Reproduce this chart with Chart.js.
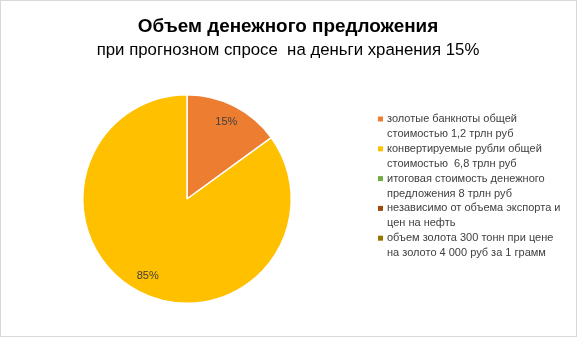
<!doctype html>
<html lang="ru">
  <head>
    <meta charset="utf-8">
    <title>Объем денежного предложения</title>
    <style>
      * { margin: 0; padding: 0; }
      body { background: #fff; }
      .chartBox { width: 577px; height: 337px; }
    </style>
  </head>
  <body>
    <div class="chartBox">
      <canvas id="myChart" width="577" height="337"></canvas>
    </div>
    <script src="https://cdn.jsdelivr.net/npm/chart.js"></script>
    <script>
    // data
    const categories = [
      ['золотые банкноты общей', 'стоимостью 1,2 трлн руб'],
      ['конвертируемые рубли общей', 'стоимостью  6,8 трлн руб'],
      ['итоговая стоимость денежного', 'предложения 8 трлн руб'],
      ['независимо от объема экспорта и', 'цен на нефть'],
      ['объем золота 300 тонн при цене', 'на золото 4 000 руб за 1 грамм']
    ];
    const values = [1.2, 6.8, 0, 0, 0];
    const colors = ['#ED7D31', '#FFC000', '#70AD47', '#9E480E', '#997300'];
    const titleText = 'Объем денежного предложения';
    const subtitleText = 'при прогнозном спросе  на деньги хранения 15%';

    const FONT = '"Liberation Sans", Arial, sans-serif';

    // frame and titles
    const framePlugin = {
      id: 'frame',
      beforeDraw(chart) {
        const ctx = chart.ctx;
        ctx.save();
        ctx.fillStyle = '#fff';
        ctx.fillRect(0, 0, chart.width, chart.height);
        ctx.strokeStyle = '#D9D9D9';
        ctx.lineWidth = 1;
        ctx.strokeRect(0.5, 0.5, chart.width - 1, chart.height - 1);
        ctx.fillStyle = '#000';
        ctx.textAlign = 'center';
        ctx.textBaseline = 'alphabetic';
        ctx.font = 'bold 18.9px ' + FONT;
        ctx.fillText(titleText, 288, 32);
        ctx.font = '16.8px ' + FONT;
        ctx.fillText(subtitleText, 288, 54.5);
        ctx.restore();
      }
    };

    // percent labels inside slices
    const pctPlugin = {
      id: 'pct',
      afterDatasetsDraw(chart) {
        const ctx = chart.ctx;
        const ds = chart.data.datasets[0].data;
        const total = ds.reduce((a, b) => a + b, 0);
        ctx.save();
        ctx.font = '11px ' + FONT;
        ctx.fillStyle = '#404040';
        ctx.textAlign = 'center';
        ctx.textBaseline = 'middle';
        chart.getDatasetMeta(0).data.forEach((arc, i) => {
          if (!ds[i]) return;
          const p = arc.getProps(['x', 'y', 'startAngle', 'endAngle', 'outerRadius'], true);
          const mid = (p.startAngle + p.endAngle) / 2;
          const r = p.outerRadius * 0.83;
          const txt = Math.round(ds[i] / total * 100) + '%';
          ctx.fillText(txt, p.x + Math.cos(mid) * r, p.y + Math.sin(mid) * r);
        });
        ctx.restore();
      }
    };

    // legend on the right, two lines per item
    const legendPlugin = {
      id: 'sideLegend',
      afterDraw(chart) {
        const ctx = chart.ctx;
        const labels = chart.data.labels;
        const cols = chart.data.datasets[0].backgroundColor;
        const x0 = 378, y0 = 119, lineH = 15, itemH = 29.8;
        ctx.save();
        ctx.font = '11px ' + FONT;
        ctx.textBaseline = 'middle';
        labels.forEach((lab, i) => {
          const y = y0 + i * itemH;
          ctx.fillStyle = cols[i];
          ctx.fillRect(x0, y - 2.5, 5, 5);
          ctx.fillStyle = '#404040';
          lab.forEach((line, j) => ctx.fillText(line, x0 + 9, y + j * lineH));
        });
        ctx.restore();
      }
    };

    const config = {
      type: 'pie',
      data: {
        labels: categories,
        datasets: [{
          data: values,
          backgroundColor: colors,
          borderColor: '#fff',
          borderWidth: [1.5, 1.5, 0, 0, 0]
        }]
      },
      options: {
        responsive: false,
        animation: false,
        layout: { padding: { left: 82, right: 285, top: 94, bottom: 33 } },
        plugins: {
          legend: { display: false },
          tooltip: { enabled: false }
        }
      },
      plugins: [framePlugin, pctPlugin, legendPlugin]
    };

    const myChart = new Chart(document.getElementById('myChart'), config);
    </script>
  </body>
</html>
